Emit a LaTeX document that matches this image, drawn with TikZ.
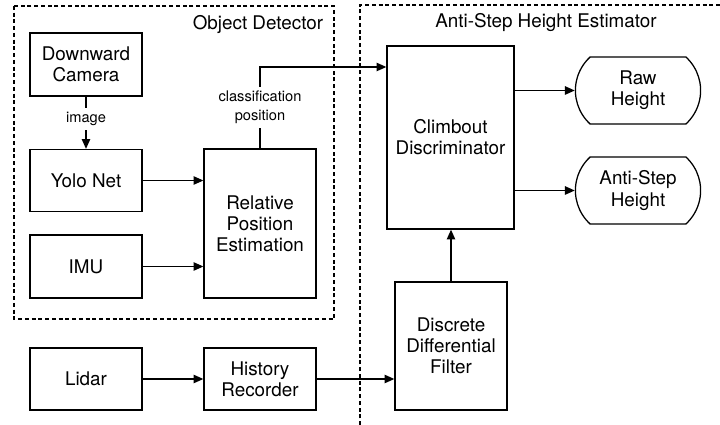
\documentclass[tikz,border=0pt]{standalone}
\usepackage{fontspec}
\setmainfont{TeX Gyre Heros}
\usetikzlibrary{arrows.meta,shapes.misc}
\tikzset{
  box/.style={draw,line width=0.9pt,minimum width=2.8cm,minimum height=1.575cm,align=center,inner sep=1pt,font=\fontsize{13.4}{15}\selectfont},
  term/.style={box,rounded rectangle,rounded rectangle arc length=95,minimum width=3.2cm,minimum height=1.675cm},
  arr/.style={line width=0.9pt,-{Triangle[length=7pt,width=6pt]}},
  lbl/.style={fill=white,align=center,inner sep=3pt,font=\fontsize{10.4}{13.5}\selectfont},
  group/.style={line width=0.8pt,dash pattern=on 2.8pt off 2pt},
  title/.style={font=\fontsize{13.4}{15}\selectfont}
}
\begin{document}
\begin{tikzpicture}[x=0.025cm,y=-0.025cm]
\useasboundingbox (0,0) rectangle (720,425);
% groups
\draw[group] (14,6) rectangle (334,319);
\draw[group] (360,425) -- (360,5) -- (720,5);
\node[title,anchor=base east] (odt) at (328,30) {Object Detector};
\node[title,anchor=base] (aht) at (546,28) {Anti-Step Height Estimator};
% sensors and detector
\node[box] (cam) at (86,64.5) {Downward\\Camera};
\node[box,minimum height=1.55cm] (yolo) at (86,180.5) {Yolo Net};
\node[box] (imu) at (86,266.5) {IMU};
\node[box,minimum height=1.55cm] (lidar) at (86,379) {Lidar};
\node[box,minimum height=3.725cm] (rel) at (260,223.5) {Relative\\Position\\Estimation};
\node[box,minimum height=1.55cm] (hist) at (260,379) {History\\Recorder};
% estimator
\node[box,minimum width=3.175cm,minimum height=4.575cm] (climb) at (450.5,137.5) {Climbout\\Discriminator};
\node[box,minimum height=3.2cm] (ddf) at (451,346) {Discrete\\Differential\\Filter};
\node[term] (raw) at (638,90.5) {Raw\\Height};
\node[term] (anti) at (638,190.5) {Anti-Step\\Height};
% connectors
\draw[arr] (cam) -- node[lbl,pos=0.42] {image} (yolo);
\draw[arr] (yolo) -- (yolo -| rel.west);
\draw[arr] (imu) -- (imu -| rel.west);
\draw[arr] (lidar) -- (lidar -| hist.west);
\draw[arr] (hist) -- (hist -| ddf.west);
\draw[arr] (ddf) -- (ddf |- climb.south);
\draw[arr] (rel.north) -- node[lbl] {classification\\position} (rel.north |- 0,67) -- (climb.west |- 0,67);
\draw[arr] (climb.east |- raw) -- (raw);
\draw[arr] (climb.east |- anti) -- (anti);
\end{tikzpicture}
\end{document}
